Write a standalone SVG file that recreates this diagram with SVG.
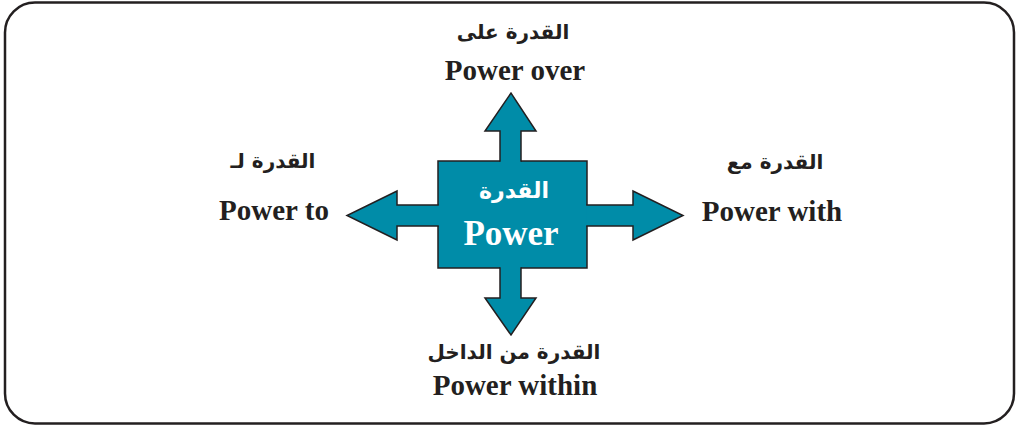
<svg xmlns="http://www.w3.org/2000/svg" width="1017" height="428" viewBox="0 0 1017 428">
<style>
.frame{fill:#fff;stroke:#231f20;stroke-width:2.5}
.shape{fill:#008ca8;stroke:#231f20;stroke-width:1.5;stroke-linejoin:miter}
.boxfill{fill:#008ca8;stroke:none}
.en{font-family:"Liberation Serif","Times New Roman",serif;font-weight:bold;font-size:29px;fill:#231f20;text-anchor:middle}
.ar{font-family:"DejaVu Sans","Noto Sans",sans-serif;font-weight:bold;font-size:20px;fill:#231f20;text-anchor:middle}
.cen{font-family:"Liberation Serif","Times New Roman",serif;font-weight:bold;font-size:35px;fill:#fff;text-anchor:middle}
.cenar{font-family:"DejaVu Sans","Noto Sans",sans-serif;font-weight:bold;font-size:22px;fill:#fff;text-anchor:middle}
</style>
<rect class="frame" x="5" y="2.5" width="1009" height="421" rx="30" ry="30"/>
<g id="power">
<rect class="boxfill" x="438" y="161" width="149" height="107"/>
<path class="shape" style="fill:none" d="M500,161 H438 V205 M438,226 V268 H500 M521,268 H587 V226 M587,205 V161 H521"/>
<text class="cenar" x="514" y="198" direction="rtl">القدرة</text>
<text class="cen" x="511" y="245">Power</text>
</g>
<g id="connectors">
<path class="shape" d="M500,161.8 V131 H485 L511,93 L536,131 H521 V161.8"/>
<path class="shape" d="M500,267.2 V298 H485 L511,335 L536,298 H521 V267.2"/>
<path class="shape" d="M438.8,205 H397 V191 L347,215.5 L397,240 V226 H438.8"/>
<path class="shape" d="M586.2,205 H633 V191 L683,215.5 L633,240 V226 H586.2"/>
</g>
<g id="power-over">
<text class="ar" x="513" y="39" direction="rtl">القدرة على</text>
<text class="en" x="515" y="80">Power over</text>
</g>
<g id="power-to">
<text class="ar" x="273" y="168" direction="rtl">القدرة لـ</text>
<text class="en" x="274" y="220">Power to</text>
</g>
<g id="power-with">
<text class="ar" x="775" y="169" direction="rtl">القدرة مع</text>
<text class="en" x="772" y="221">Power with</text>
</g>
<g id="power-within">
<text class="ar" x="514" y="359" direction="rtl">القدرة من الداخل</text>
<text class="en" x="515" y="395">Power within</text>
</g>
</svg>
